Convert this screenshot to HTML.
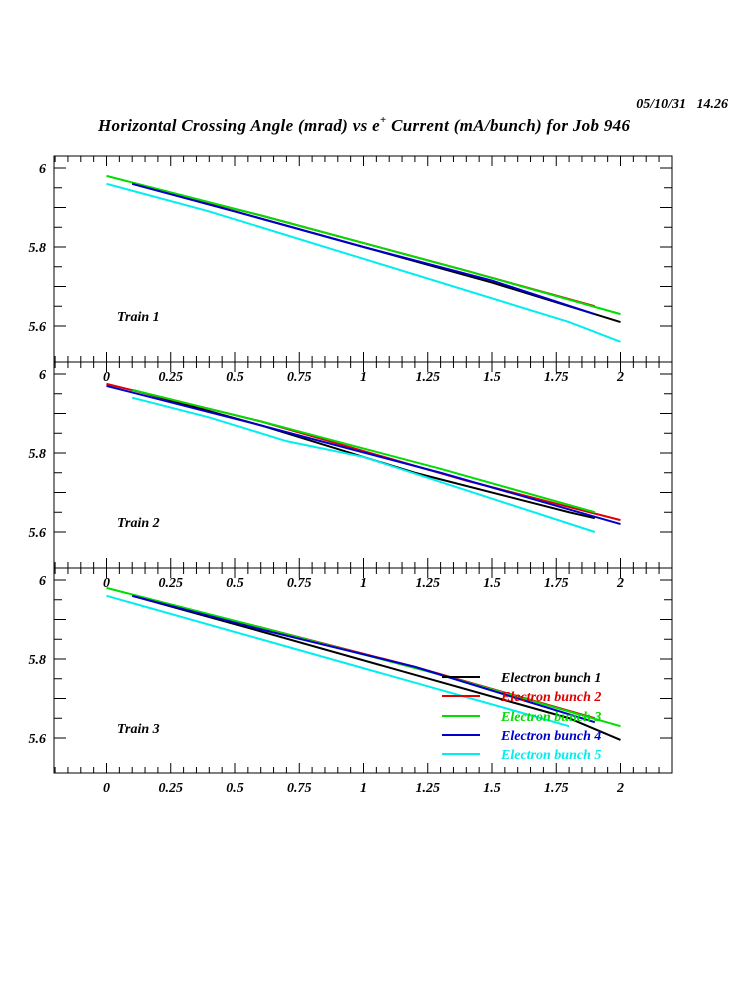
<!DOCTYPE html>
<html><head><meta charset="utf-8"><style>body{margin:0;background:#fff}svg text{font-family:"Liberation Serif",serif;font-weight:bold;font-style:italic}</style></head>
<body>
<svg id="s" width="750" height="1000" xmlns="http://www.w3.org/2000/svg">
<rect width="750" height="1000" fill="#fff"/>
<text x="728" y="108" font-size="14" text-anchor="end">05/10/31&#160;&#160;&#160;14.26</text>
<text x="98" y="131" font-size="17" textLength="532" lengthAdjust="spacing">Horizontal Crossing Angle (mrad) vs e<tspan dy="-8" font-size="11">+</tspan><tspan dy="8"> Current (mA/bunch) for Job 946</tspan></text>
</svg>
<script>
const s=document.getElementById('s'),NS='http://www.w3.org/2000/svg';
function el(t,a,txt){const e=document.createElementNS(NS,t);for(const k in a)e.setAttribute(k,a[k]);if(txt!==undefined)e.textContent=txt;s.appendChild(e);return e;}
const X=v=>106.5+v*257;
const panels=[{t:156,b:362,y6:168},{t:362,b:568,y6:374},{t:568,b:773,y6:580}];
const data=[
 {bk:[[0.1,5.96],[0.5,5.89],[1,5.80],[1.5,5.71],[2,5.61]],
  r:[[0.1,5.96],[0.6,5.88],[1.4,5.74],[1.9,5.65]],
  g:[[0,5.98],[0.6,5.88],[1.4,5.74],[2,5.63]],
  bl:[[0.1,5.96],[0.5,5.89],[1,5.80],[1.5,5.715],[1.9,5.63]],
  c:[[0,5.96],[0.4,5.89],[1,5.77],[1.8,5.61],[2,5.56]]},
 {bk:[[0.1,5.96],[0.6,5.87],[1.2,5.75],[1.8,5.65],[1.9,5.635]],
  r:[[0,5.975],[0.6,5.88],[1.4,5.73],[2,5.63]],
  g:[[0.1,5.96],[0.6,5.88],[1.3,5.76],[1.9,5.65]],
  bl:[[0,5.97],[0.6,5.87],[1.3,5.75],[2,5.62]],
  c:[[0.1,5.94],[0.4,5.89],[0.7,5.83],[1,5.79],[1.9,5.60]]},
 {bk:[[0.1,5.96],[0.6,5.87],[1.2,5.76],[1.8,5.65],[2,5.595]],
  r:[[0.1,5.96],[0.6,5.88],[1.2,5.78],[1.9,5.65]],
  g:[[0,5.98],[0.6,5.88],[1.3,5.76],[2,5.63]],
  bl:[[0.1,5.96],[0.6,5.875],[1.2,5.78],[1.9,5.64]],
  c:[[0,5.96],[0.6,5.85],[1.2,5.74],[1.8,5.63]]}];
const col={bk:'#000',r:'#e00000',g:'#00dd00',bl:'#0000cc',c:'#00eeee'};
panels.forEach((p,i)=>{
 const Y=v=>p.y6+(6-v)*395;
 el('rect',{x:54,y:p.t,width:618,height:p.b-p.t,fill:'none',stroke:'#000','stroke-width':1});
 for(let k=-4;k<=44;k++){const x=X(k*0.05);if(x<55||x>671)continue;const L=(k%5==0)?10:6;
  el('line',{x1:x,x2:x,y1:p.t,y2:p.t+L,stroke:'#000'});el('line',{x1:x,x2:x,y1:p.b,y2:p.b-L,stroke:'#000'});}
 for(let k=0;k<=9;k++){const v=6.0-k*0.05+0.05;const y=Y(v);if(y<p.t+1||y>p.b-1)continue;const L=(Math.round(v*100)%10==0)?12:8;
  el('line',{x1:54,x2:54+L,y1:y,y2:y,stroke:'#000'});el('line',{x1:672,x2:672-L,y1:y,y2:y,stroke:'#000'});}
 [['6',6],['5.8',5.8],['5.6',5.6]].forEach(([t,v])=>el('text',{x:46,y:Y(v)+5,'font-size':14,'text-anchor':'end'},t));
 el('text',{x:117,y:Y(5.6)-5,'font-size':14},'Train '+(i+1));
 for(const k of ['bk','r','g','bl','c'])el('polyline',{points:data[i][k].map(q=>X(q[0])+','+Y(q[1])).join(' '),fill:'none',stroke:col[k],'stroke-width':2});
});
[p=>381,p=>587,p=>792].forEach(f=>{['0','0.25','0.5','0.75','1','1.25','1.5','1.75','2'].forEach((t,j)=>el('text',{x:X(j*0.25),y:f(),'font-size':14,'text-anchor':'middle'},t));});
const lg=[['bk','Electron bunch 1',677],['r','Electron bunch 2',696],['g','Electron bunch 3',716],['bl','Electron bunch 4',735],['c','Electron bunch 5',754]];
lg.forEach(([k,t,y])=>{el('line',{x1:442,x2:480,y1:y,y2:y,stroke:col[k],'stroke-width':2});el('text',{x:501,y:y+5,'font-size':14,fill:col[k]},t);});
</script>
</body></html>
